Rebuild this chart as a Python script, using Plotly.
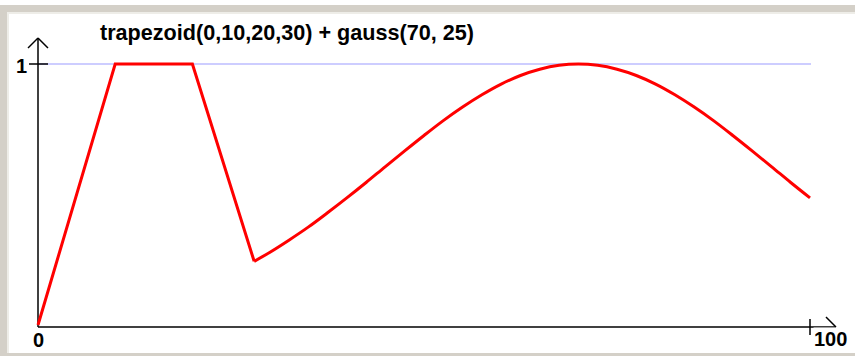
import plotly.graph_objects as go

# ---- data ----
trap_x = [0, 10, 20, 28]
trap_y = [0, 1, 1, 0.244]
gauss_x = [28, 30, 32.5, 35, 37.5, 40, 42.5, 45, 47.5, 50, 52.5, 55, 57.5, 60, 62.5,
           65, 67.5, 70, 72.5, 75, 77.5, 80, 82.5, 85, 87.5, 90, 92.5, 95, 97.5, 100]
gauss_y = [0.244, 0.278, 0.325, 0.375, 0.430, 0.487, 0.546, 0.607, 0.667, 0.726, 0.783, 0.835, 0.882,
           0.923, 0.956, 0.980, 0.995, 1.0, 0.995, 0.980, 0.956, 0.923, 0.882, 0.835, 0.783, 0.726,
           0.667, 0.607, 0.546, 0.487]
title_text = "trapezoid(0,10,20,30) + gauss(70, 25)"
x_tick_labels = ["0", "100"]
y_tick_labels = ["1"]

# ---- layout geometry (pixels) ----
W, H = 855, 356
XA, XB = 38, 810      # pixel of x=0 and x=100
YA, YB = 325, 64      # pixel of y=0 and y=1
xr = [(0 - XA) / (XB - XA) * 100, (W - XA) / (XB - XA) * 100]
yr = [(YA - H) / (YA - YB), (YA - 0) / (YA - YB)]

def px(x):
    return x / W

def py(y):
    return 1 - y / H

fig = go.Figure()
fig.add_trace(go.Scatter(x=trap_x, y=trap_y, mode="lines",
                         line=dict(color="#ff0000", width=3), hoverinfo="skip"))
fig.add_trace(go.Scatter(x=gauss_x, y=gauss_y, mode="lines",
                         line=dict(color="#ff0000", width=3, shape="spline", smoothing=1),
                         hoverinfo="skip"))

shapes = []
gray = "#d4d0c8"
# window frame
shapes.append(dict(type="rect", xref="paper", yref="paper", x0=px(0), x1=px(W), y0=py(5), y1=py(12),
                   fillcolor=gray, line_width=0, layer="below"))
shapes.append(dict(type="rect", xref="paper", yref="paper", x0=px(0), x1=px(7), y0=py(5), y1=py(H),
                   fillcolor=gray, line_width=0, layer="below"))
shapes.append(dict(type="rect", xref="paper", yref="paper", x0=px(0), x1=px(W), y0=py(353), y1=py(H),
                   fillcolor=gray, line_width=0, layer="below"))
shapes.append(dict(type="line", xref="paper", yref="paper", x0=px(8), x1=px(8), y0=py(12), y1=py(353),
                   line=dict(color="#eeede8", width=2), layer="below"))
shapes.append(dict(type="line", xref="paper", yref="paper", x0=px(7), x1=px(W), y0=py(13), y1=py(13),
                   line=dict(color="#eeede8", width=2), layer="below"))

def pline(x0, y0, x1, y1, color="#000000", width=1.5, layer="below"):
    shapes.append(dict(type="line", xref="paper", yref="paper", x0=px(x0), y0=py(y0), x1=px(x1), y1=py(y1),
                       line=dict(color=color, width=width), layer=layer))

# gridline at y=1
pline(XA, YB, 811, YB, color="rgb(205,205,255)", width=2)
# y axis + arrow + tick
pline(XA, 327, XA, 38)
pline(XA, 38, 28, 48)
pline(XA, 38, 48, 48)
pline(29, YB, 48, YB)
# x axis + arrow + tick
pline(XA, 327, 836, 327)
pline(836, 327, 826, 317)
pline(XB, 319, XB, 335)

FONT = "Liberation Sans"
annotations = [
    dict(text=title_text, xref="paper", yref="paper", x=px(99), y=py(32), xanchor="left", yanchor="middle",
         showarrow=False, font=dict(family=FONT, size=21.6, color="#000000")),
    dict(text=x_tick_labels[0], xref="paper", yref="paper", x=px(38), y=py(340), xanchor="center",
         yanchor="middle", showarrow=False, font=dict(family=FONT, size=20, color="#000000")),
    dict(text=x_tick_labels[1], xref="paper", yref="paper", x=px(830), y=py(339), xanchor="center",
         yanchor="middle", showarrow=False, font=dict(family=FONT, size=20, color="#000000"),
         bgcolor="#ffffff"),
    dict(text=y_tick_labels[0], xref="paper", yref="paper", x=px(21), y=py(66), xanchor="center",
         yanchor="middle", showarrow=False, font=dict(family=FONT, size=20, color="#000000")),
]
for a in annotations:
    a["text"] = "<b>" + a["text"] + "</b>"
    a["borderpad"] = 0

fig.update_layout(
    width=W, height=H, autosize=False,
    margin=dict(l=0, r=0, t=0, b=0, pad=0),
    paper_bgcolor="#ffffff", plot_bgcolor="#ffffff",
    showlegend=False,
    xaxis=dict(range=xr, visible=False, fixedrange=True),
    yaxis=dict(range=yr, visible=False, fixedrange=True),
    shapes=shapes, annotations=annotations,
)
fig.write_html("out.html", config={"displayModeBar": False},
               post_script="document.body.style.margin='0';document.body.style.overflow='hidden';")
